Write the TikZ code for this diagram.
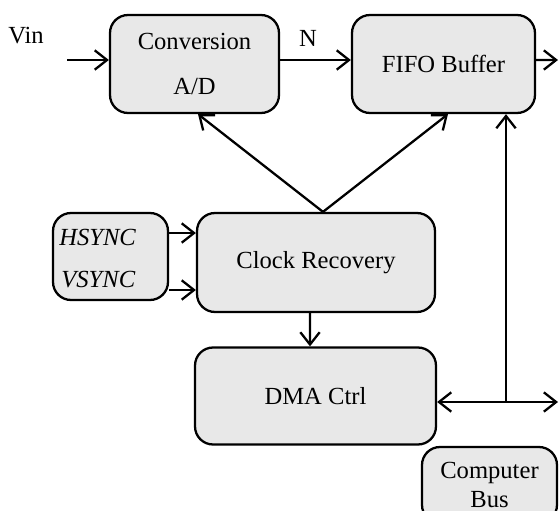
\documentclass[tikz,border=0pt]{standalone}
\usepackage{fontspec}
\setmainfont{Liberation Serif}
\usetikzlibrary{arrows.meta}
\begin{document}
\begin{tikzpicture}[
        x=0.02cm, y=-0.02cm,
        block/.style={draw, line width=1.3pt, rounded corners=0.36cm, fill=gray!18, inner sep=0pt,
                      font=\fontsize{14}{16.5}\selectfont, align=center},
        sig/.style={font=\fontsize{14}{16.5}\selectfont, inner sep=0pt},
        arrow/.style={-{Straight Barb[length=7pt,width=11pt]}, line width=1.3pt},
        biarrow/.style={{Straight Barb[length=7pt,width=11pt]}-{Straight Barb[length=7pt,width=11pt]}, line width=1.3pt}
    ]
        \useasboundingbox (0,0) rectangle (559,511);
        \clip (0,0) rectangle (559,511);

        % Blocks
        \node[block, minimum width=3.38cm, minimum height=1.96cm] (conv) at (194.5,64) {Conversion\\[9pt]A/D};
        \node[block, minimum width=3.66cm, minimum height=1.96cm] (fifo) at (443.5,64) {FIFO Buffer};
        \node[block, minimum width=2.3cm, minimum height=1.74cm] (sync) at (110.5,256.5) {};
        \node[block, minimum width=4.76cm, minimum height=1.98cm] (clock) at (316,262.5) {Clock Recovery};
        \node[block, minimum width=4.82cm, minimum height=1.94cm] (dma) at (315.5,396) {DMA Ctrl};
        \node[block, minimum width=2.7cm, minimum height=1.52cm] (bus) at (489.5,485) {Computer\\Bus};

        % Sync signals
        \node[sig, anchor=west] (hs) at (59,237) {\textit{HSYNC}};
        \node[sig, anchor=west] (vs) at (61,280) {\textit{VSYNC}};

        % Labels
        \node[sig] (vin) at (26,36) {Vin};
        \node[sig] (nbits) at (308,38) {N};

        % Coordinates
        \coordinate (vin-in) at (67,60);
        \coordinate (fifo-out) at (558,60);
        \coordinate (bus-j) at (506,402);
        \coordinate (bus-r) at (558,402);
        \coordinate (hs-out) at ([yshift=0.47cm]sync.east);
        \coordinate (vs-out) at ([yshift=-0.67cm]sync.east);

        % Data path
        \draw[arrow] (vin-in) -- (vin-in -| conv.west);
        \draw[arrow] ([yshift=0.08cm]conv.east) -- ([yshift=0.08cm]fifo.west);
        \draw[arrow] ([yshift=0.08cm]fifo.east) -- (fifo-out);

        % Sync -> Clock Recovery
        \draw[arrow] (hs-out) -- (hs-out -| clock.west);
        \draw[arrow] (vs-out) -- (vs-out -| clock.west);

        % Clock Recovery -> Conversion, FIFO, DMA
        \draw[arrow] ([xshift=0.14cm]clock.north) -- ([xshift=0.07cm]conv.south);
        \draw[arrow] ([xshift=0.14cm]clock.north) -- ([xshift=0.09cm]fifo.south);
        \draw[arrow] ([xshift=-0.12cm]clock.south) -- ([xshift=-0.11cm]dma.north);

        % Bus
        \draw[biarrow] (dma.east |- bus-j) -- (bus-r);
        \draw[arrow] (bus-j) -- (bus-j |- fifo.south);

    \end{tikzpicture}
\end{document}
